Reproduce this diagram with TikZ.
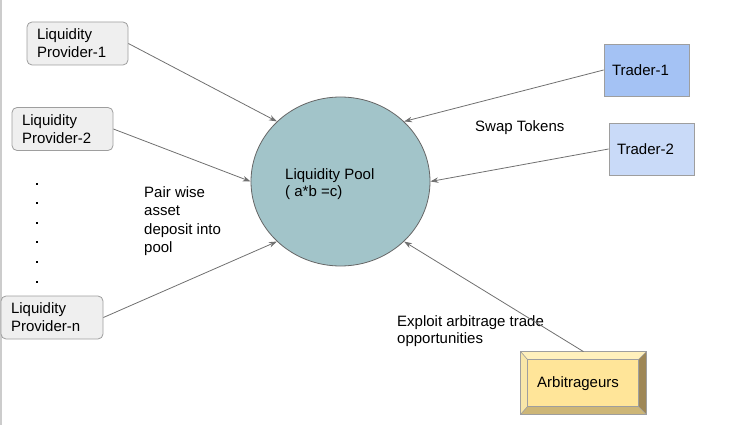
\documentclass[tikz,border=0pt]{standalone}
\usepackage{fontspec}
\setmainfont{Liberation Sans}
\usetikzlibrary{arrows.meta,shapes.geometric}
\definecolor{lpfill}{HTML}{EFEFEF}
\definecolor{boxborder}{HTML}{9E9E9E}
\definecolor{poolfill}{HTML}{A2C4C9}
\definecolor{poolborder}{HTML}{666666}
\definecolor{tone}{HTML}{A4C2F4}
\definecolor{ttwo}{HTML}{C9DAF8}
\definecolor{arbfill}{HTML}{FFE599}
\definecolor{arbtop}{HTML}{FFF0BC}
\definecolor{arbleft}{HTML}{F8E6A8}
\definecolor{arbright}{HTML}{9E8756}
\definecolor{arbbottom}{HTML}{CDB677}
\definecolor{linec}{HTML}{707070}
\definecolor{edgec}{HTML}{CCCCCC}
\begin{document}
\begin{tikzpicture}[x=1pt,y=-1pt,
  every node/.style={font=\fontsize{15}{18}\selectfont, text=black},
  lpbox/.style={draw=boxborder, fill=lpfill, rounded corners=5pt, line width=0.8pt,
    align=left, inner xsep=10pt, inner ysep=0pt, text width=#1, minimum height=43pt},
  trbox/.style={draw=boxborder, line width=0.8pt, align=left, inner xsep=8pt, inner ysep=0pt,
    text width=69pt, minimum height=52pt},
  lbl/.style={anchor=west, align=left, inner sep=0pt, font=\fontsize{15}{18.3}\selectfont},
  conn/.style={draw=linec, line width=0.8pt, -{Stealth[length=8pt,width=5.5pt]}},
  dotmark/.style={fill=black, inner sep=0pt, minimum size=2.2pt}
]
\useasboundingbox (0,0) rectangle (745,425);
\draw[edgec, line width=1.5pt] (0.75,0) -- (0.75,425);

% liquidity pool
\node[ellipse, draw=poolborder, fill=poolfill, line width=0.8pt, minimum width=179pt,
  minimum height=169pt, inner sep=0pt] (pool) at (340.5,181.5) {};
\node[lbl, font=\fontsize{15}{17}\selectfont] (pooltext) at (285,184) {Liquidity Pool\\( a*b =c)};

% liquidity providers
\node[lpbox=81pt] (lp1) at (77.5,43.5) {Liquidity\\Provider-1};
\node[lpbox=81pt] (lp2) at (62.5,129) {Liquidity\\Provider-2};
\node[lpbox=82pt] (lpn) at (52,317.5) {Liquidity\\Provider-n};

% dots
\foreach \yy [count=\i] in {184,203,223,242,262,282} \node[dotmark] (dot\i) at (37,\yy) {};

% traders
\node[trbox, fill=tone] (t1) at (646.5,70) {Trader-1};
\node[trbox, fill=ttwo] (t2) at (651.5,149) {Trader-2};

% arbitrageurs (bevel)
\node[draw=boxborder, line width=0.8pt, fill=arbfill, minimum width=125pt, minimum height=62pt,
  inner sep=0pt] (arb) at (583.5,383) {};
\coordinate (ai1) at ([xshift=7pt,yshift=-8pt]arb.north west);
\coordinate (ai2) at ([xshift=-8pt,yshift=-8pt]arb.north east);
\coordinate (ai3) at ([xshift=-8pt,yshift=8pt]arb.south east);
\coordinate (ai4) at ([xshift=7pt,yshift=8pt]arb.south west);
\fill[arbtop] (arb.north west) -- (arb.north east) -- (ai2) -- (ai1) -- cycle;
\fill[arbleft] (arb.north west) -- (ai1) -- (ai4) -- (arb.south west) -- cycle;
\fill[arbright] (arb.north east) -- (arb.south east) -- (ai3) -- (ai2) -- cycle;
\fill[arbbottom] (arb.south west) -- (ai4) -- (ai3) -- (arb.south east) -- cycle;
\draw[boxborder, line width=0.6pt] (ai1) rectangle (ai3);
\draw[boxborder, line width=0.6pt] (arb.north west) -- (ai1) (arb.north east) -- (ai2)
  (arb.south east) -- (ai3) (arb.south west) -- (ai4);
\draw[boxborder, line width=0.8pt] (arb.north west) rectangle (arb.south east);
\node[lbl] (arbtext) at (537,384) {Arbitrageurs};

% labels
\node[lbl] (swap) at (475,128) {Swap Tokens};
\node[lbl] (pair) at (144,221) {Pair wise\\asset\\deposit into\\pool};
\node[lbl, font=\fontsize{15}{17.5}\selectfont] (exploit) at (397,331) {Exploit arbitrage trade\\opportunities};

% connectors
\draw[conn] (lp1.east) -- (pool.north west);
\draw[conn] (lp2.east) -- (pool.west);
\draw[conn] (lpn.east) -- (pool.south west);
\draw[conn] (t1.west) -- (pool.north east);
\draw[conn] (t2.west) -- (pool.east);
\draw[conn] (arb.north) -- (pool.south east);
\end{tikzpicture}
\end{document}
